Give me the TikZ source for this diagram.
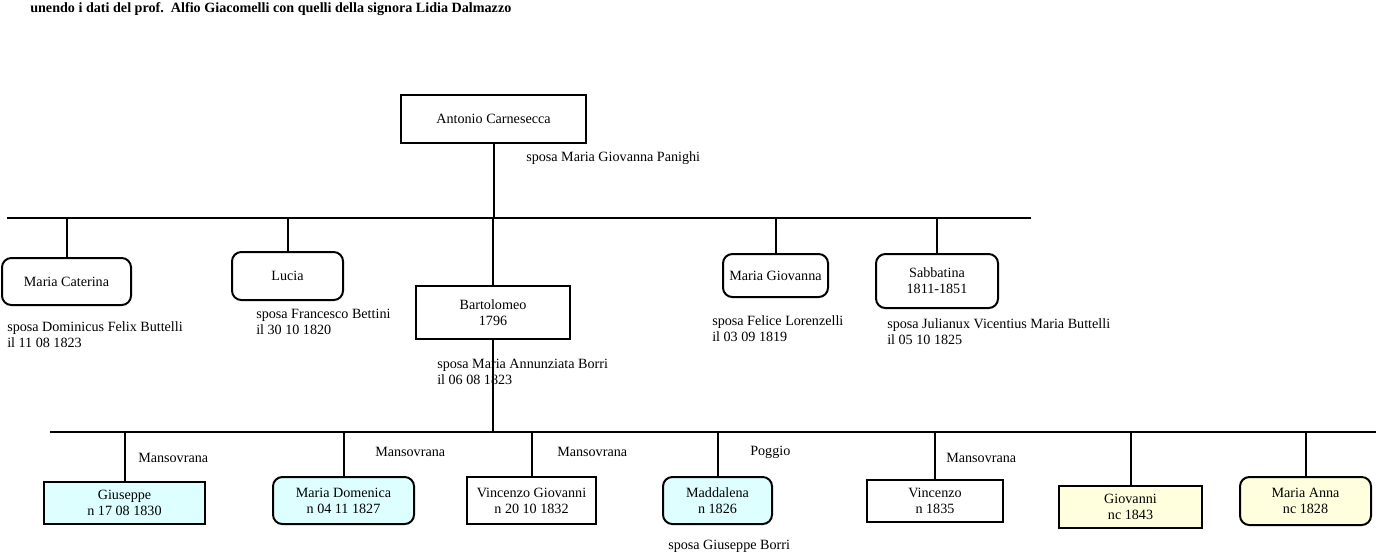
\documentclass[tikz,border=0pt]{standalone}
\usepackage{fontspec}
\setmainfont{Liberation Serif}
\usetikzlibrary{positioning}
\definecolor{azzurro}{RGB}{221,255,255}
\definecolor{giallino}{RGB}{255,255,221}

\tikzset{
    persona/.style={draw, line width=1.5pt, inner sep=0pt, align=center},
    tonda/.style={persona, rounded corners=7pt},
    nota/.style={anchor=west, inner sep=0pt, align=left},
    ramo/.style={line width=1.5pt}
}

\begin{document}
\begin{tikzpicture}[x=0.75pt, y=-0.75pt, font=\fontsize{10.6pt}{12pt}\selectfont]
        \useasboundingbox (0,0) rectangle (1380,554);

        \node[nota, font=\fontsize{10.6pt}{12pt}\selectfont\bfseries] (titolo) at (30,9) {unendo i dati del prof.\ \ Alfio Giacomelli con quelli della signora Lidia Dalmazzo};

        % capostipite
        \node[persona, minimum width=138.75pt, minimum height=36pt] (antonio) at (493.5,119) {Antonio Carnesecca};
        \node[nota] (panighi) at (526,158) {sposa Maria Giovanna Panighi};

        \coordinate (A1) at (7,218);
        \coordinate (A2) at (1031,218);
        \coordinate (B1) at (50,432);
        \coordinate (B2) at (1376,432);

        % figli
        \node[tonda, minimum width=96.75pt, minimum height=35.25pt] (caterina) at (66.5,281.5) {Maria Caterina};
        \node[tonda, minimum width=83.25pt, minimum height=36pt] (lucia) at (287.5,276) {Lucia};
        \node[persona, minimum width=115.5pt, minimum height=39.75pt] (bartolomeo) at (493,312.5) {Bartolomeo\\1796};
        \node[tonda, minimum width=78.75pt, minimum height=32.25pt] (mgiovanna) at (775.5,275.5) {Maria Giovanna};
        \node[tonda, minimum width=91.5pt, minimum height=40.5pt] (sabbatina) at (937,281) {Sabbatina\\1811-1851};

        \node[nota] (buttelli) at (7,335) {sposa Dominicus Felix Buttelli\\il 11 08 1823};
        \node[nota] (bettini) at (256,322) {sposa Francesco Bettini\\il 30 10 1820};
        \node[nota] (borri) at (437,372) {sposa Maria Annunziata Borri\\il 06 08 1823};
        \node[nota] (lorenzelli) at (712,329) {sposa Felice Lorenzelli\\il 03 09 1819};
        \node[nota] (julianux) at (887,332) {sposa Julianux Vicentius Maria Buttelli\\il 05 10 1825};

        % nipoti
        \node[persona, fill=azzurro, minimum width=120.75pt, minimum height=31.5pt] (giuseppe) at (124.5,503) {Giuseppe\\n 17 08 1830};
        \node[tonda, fill=azzurro, minimum width=105.75pt, minimum height=35.25pt] (domenica) at (343.5,500.5) {Maria Domenica\\n 04 11 1827};
        \node[persona, minimum width=96.75pt, minimum height=35.25pt] (vgiovanni) at (531.5,500.5) {Vincenzo Giovanni\\n 20 10 1832};
        \node[tonda, fill=azzurro, minimum width=81.75pt, minimum height=35.25pt] (maddalena) at (717.5,500.5) {Maddalena\\n 1826};
        \node[persona, minimum width=102pt, minimum height=31.5pt] (vincenzo) at (935,501) {Vincenzo\\n 1835};
        \node[persona, fill=giallino, minimum width=107.25pt, minimum height=31.5pt] (giovanni) at (1130.5,507) {Giovanni\\nc 1843};
        \node[tonda, fill=giallino, minimum width=98.25pt, minimum height=36pt] (manna) at (1305.5,501) {Maria Anna\\nc 1828};

        \node[nota] (luogo1) at (138,458) {Mansovrana};
        \node[nota] (luogo2) at (375,452) {Mansovrana};
        \node[nota] (luogo3) at (557,452) {Mansovrana};
        \node[nota] (luogo4) at (750,452) {Poggio};
        \node[nota] (luogo5) at (946,458) {Mansovrana};
        \node[nota] (gborri) at (668,546) {sposa Giuseppe Borri};

        % linee
        \draw [ramo] (antonio.south) -- (antonio.south |- A1);
        \draw [ramo] (A1) -- (A2);
        \foreach \n in {caterina, lucia, bartolomeo, mgiovanna, sabbatina}
            \draw [ramo] (\n.north) -- (\n.north |- A1);
        \draw [ramo] (bartolomeo.south) -- (bartolomeo.south |- B1);
        \draw [ramo] (B1) -- (B2);
        \foreach \n in {giuseppe, domenica, vgiovanni, maddalena, vincenzo, giovanni, manna}
            \draw [ramo] (\n.north) -- (\n.north |- B1);

    \end{tikzpicture}
\end{document}
